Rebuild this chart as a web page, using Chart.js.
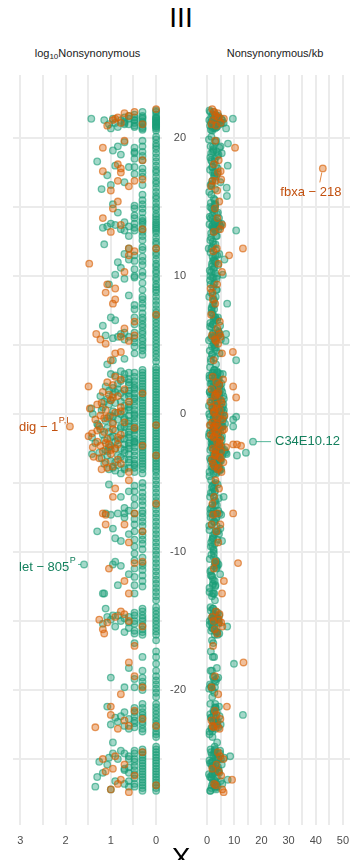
<!DOCTYPE html>
<html>
<head>
<meta charset="utf-8">
<script src="https://cdn.jsdelivr.net/npm/chart.js@4.4.1/dist/chart.umd.min.js"></script>
<style>
  body { margin: 0; background: #fff; width: 359px; height: 860px; overflow: hidden; position: relative;
         font-family: "Liberation Sans", Arial, sans-serif; }
  .title { position: absolute; left: 0; width: 362px; text-align: center; font-size: 28px; line-height: 28px; color: #000; }
  .strip { position: absolute; top: 47px; font-size: 11px; line-height: 12px; color: #1A1A1A; text-align: center; }
  .strip sub { font-size: 8px; line-height: 0; vertical-align: -2px; }
  canvas { position: absolute; top: 0; }
</style>
</head>
<body>
<div class="title" style="top:4px">III</div>
<div class="strip" style="left:13px;width:149px">log<sub>10</sub>Nonsynonymous</div>
<div class="strip" style="left:200px;width:150px">Nonsynonymous/kb</div>
<canvas id="logPanel" data-panel="log" width="170" height="860" style="left:0"></canvas>
<canvas id="kbPanel" data-panel="kb" width="194" height="860" style="left:165px"></canvas>
<div class="title" style="top:844px">X</div>

<script>
// genes on chromosome III: position (Mb from centre), nonsynonymous count, nonsynonymous per kb
const greenY = [
  21.9,21.7,21.5,21.4,21.3,21.2,21.1,21.0,20.9,20.8,20.7,21.6,21.4,21.2,21.0,20.8,20.6,21.5,21.3,21.1,20.9,21.4,21.2,21.0,21.3,20.8,21.1,21.4,21.0,21.3,21.4,20.7,
  20.1,19.6,19.2,18.6,18.0,17.5,16.9,16.4,19.8,19.0,18.4,17.8,17.2,16.6,19.3,18.5,17.4,19.7,19.4,19.1,18.8,18.3,18.0,17.3,16.8,16.3,16.6,17.9,18.9,
  15.8,15.3,14.8,14.3,13.9,13.6,13.3,12.8,12.3,15.5,14.9,14.0,13.7,13.4,12.6,15.1,14.4,13.8,13.5,12.9,13.8,13.6,13.7,13.4,13.3,13.5,12.3,14.6,15.2,12.0,
  11.7,11.2,10.7,10.2,9.7,9.2,11.9,11.4,10.8,10.3,9.5,11.5,10.5,9.9,11.6,11.0,10.6,10.1,9.4,11.2,9.8,
  8.8,8.2,7.6,7.1,6.6,6.1,5.6,5.1,4.6,4.1,8.5,8.0,7.3,6.8,6.3,5.8,5.3,4.8,4.3,7.9,7.0,6.5,5.5,4.4,7.0,6.8,5.7,5.5,5.6,5.4,5.8,3.9,3.6,4.0,6.4,8.6,
  3.4,3.0,2.6,2.2,1.8,1.4,1.0,0.6,0.2,-0.2,-0.6,-1.0,-1.4,-1.8,-2.2,-2.6,-3.0,-3.4,-3.8,-4.2,
  3.2,2.8,2.4,2.0,1.6,1.2,0.8,0.4,0.0,-0.4,-0.8,-1.2,-1.6,-2.0,-2.4,-2.8,-3.2,-3.6,-4.0,
  2.7,2.1,1.5,0.9,0.3,-0.3,-0.9,-1.5,-2.1,-2.7,-3.3,-3.9,
  2.5,1.7,0.7,-0.1,-0.9,-1.7,-2.5,-3.5,
  2.6,2.2,1.9,1.5,1.1,0.8,0.5,0.2,-0.1,-0.4,-0.7,-1.0,-1.3,-1.6,-1.9,-2.2,-2.5,-2.8,-3.1,-3.4,-3.7,2.0,1.3,0.0,-0.5,-1.1,-2.0,-2.7,0.4,-1.7,-2.9,1.7,-3.9,0.9,-0.2,-1.4,-2.4,2.8,-3.6,-4.3,
  -4.8,-5.4,-6.0,-6.6,-7.2,-7.8,-8.4,-9.0,-9.6,-5.0,-5.7,-6.3,-7.0,-7.5,-8.1,-8.8,-9.4,-5.2,-6.1,-7.2,-8.0,-9.1,-7.2,-7.2,-7.3,-7.2,-6.0,-5.6,-8.5,-8.3,-9.0,-9.2,-6.8,-5.1,-8.7,-9.6,
  -10.2,-10.8,-11.4,-12.0,-12.6,-13.2,-10.4,-11.0,-11.7,-12.5,-10.6,-11.8,-13.0,-10.9,-11.0,-10.7,-12.4,-13.0,-13.0,-11.6,
  -14.0,-14.5,-15.0,-15.5,-16.0,-14.3,-14.8,-15.3,-15.8,-14.6,-15.2,-15.7,-14.7,-15.5,-14.6,-14.6,-14.7,-15.0,-15.4,-15.8,-15.2,-14.9,-14.1,
  -17.2,-18.1,-19.0,-19.6,-20.2,-17.6,-18.6,-19.4,-20.0,-19.2,-19.8,-19.1,-19.8,-18.4,-16.6,
  -21.0,-21.5,-22.0,-22.5,-23.0,-23.4,-21.3,-21.8,-22.3,-22.8,-21.6,-22.2,-22.7,-21.9,-22.0,-22.5,-21.6,-22.3,-23.8,-21.2,-22.8,
  -24.3,-24.7,-25.1,-25.5,-25.9,-26.3,-26.7,-27.1,-24.5,-24.9,-25.3,-25.7,-26.1,-26.5,-26.9,-27.3,-24.6,-25.2,-25.8,-26.4,-27.0,-24.8,-25.6,-26.6,
  -24.4,-24.6,-25.0,-25.4,-25.8,-26.0,-26.3,-27.0,-26.6,-27.2,-25.2,-24.9,
  // single hits
  22.0,21.45,21.15,20.85,20.55,19.9,19.4,18.9,18.3,17.7,
  17.2,16.7,16.1,15.6,15.0,14.5,14.1,13.75,13.45,13.1,
  12.5,12.0,11.5,10.9,10.4,9.9,9.4,9.0,8.5,7.9,
  7.35,6.85,6.35,5.85,5.35,4.85,4.35,3.8,3.2,2.8,
  2.4,2.0,1.6,1.2,0.8,0.4,0.0,-0.4,-0.8,-1.2,
  -1.6,-2.0,-2.4,-2.8,-3.2,-3.6,-4.0,-4.5,-5.1,-5.7,
  -6.3,-6.9,-7.5,-8.1,-8.7,-9.3,-9.9,-10.5,-11.1,-11.7,
  -12.3,-12.9,-13.5,-14.25,-14.75,-15.25,-15.75,-16.4,-17.6,-18.6,
  -19.3,-19.9,-20.5,-21.25,-21.75,-22.25,-22.75,-23.2,-24.1,-24.5,
  -24.9,-25.3,-25.7,-26.1,-26.5,-26.9,-27.3,
  // two hits
  21.9,21.5,21.1,20.7,19.4,18.7,17.5,15.9,15.2,14.6,
  14.2,13.9,13.2,12.9,12.1,11.1,10.0,9.0,8.3,7.7,
  7.0,6.5,6.0,5.5,5.0,4.6,3.0,2.6,2.2,1.8,
  1.4,1.0,0.6,0.2,-0.2,-0.6,-1.0,-1.4,-1.8,-2.2,
  -2.6,-3.0,-3.4,-3.8,-4.3,-5.3,-6.0,-6.6,-7.2,-7.8,
  -8.5,-9.1,-9.8,-10.8,-11.3,-12.1,-14.1,-14.6,-15.0,-15.6,
  -16.0,-19.1,-19.7,-21.0,-21.6,-22.0,-22.5,-23.0,-24.3,-24.7,
  -25.1,-25.5,-25.9,-26.3,-26.7,-27.1,
  // three hits
  21.7,21.3,20.8,19.0,17.9,14.9,14.2,13.3,11.1,10.0,
  7.6,5.9,5.2,4.9,3.0,2.4,1.8,1.2,0.6,0.0,
  -0.6,-1.2,-1.8,-2.4,-3.0,-3.6,-4.2,-5.6,-6.6,-7.6,
  -8.5,-10.1,-11.2,-12.4,-14.4,-15.0,-15.9,-21.3,-21.9,-22.4,
  -24.4,-25.0,-25.5,-26.1,-26.8,
  // four and five hits
  21.6,21.0,13.6,5.6,3.0,2.1,1.3,0.3,-0.5,-1.3,-2.1,-2.9,-3.9,-7.0,-15.1,-22.1,-25.0,-26.0,-27.0,
  21.5,21.1,13.9,5.9,2.9,1.7,0.6,-0.3,-0.9,-1.8,-2.6,-3.3,-4.0,-7.5,-14.8,-22.6,-24.6,-25.7,-26.8,
  // centre cluster
  2.4,1.6,1.0,0.1,-0.6,-1.2,-1.8,-2.3,-3.0,-3.5,-0.3,-1.5,-2.6,0.7,-3.2,1.4,-0.8,-2.1,0.3,-4.0,
  3.1,2.9,2.3,1.9,1.8,1.2,1.1,0.9,0.5,0.2,-0.1,-0.4,-0.7,-1.0,-1.1,-1.5,-1.9,-2.0,-2.3,-2.8,
  -3.0,-3.3,-3.7,-3.9,-4.1,0.0,-0.9,-2.5,1.5,-1.7
];
const greenCount = [
  1,1,1,1,1,1,1,1,1,1,1,2,2,2,2,2,2,3,3,3,3,4,5,5,6,7,8,9,11,14,27,10,
  1,1,1,1,1,1,1,1,2,2,2,2,2,2,3,3,3,5,7,9,6,20,8,12,5,16,10,4,3,
  1,1,1,1,1,1,1,1,1,2,2,2,2,2,2,3,3,3,3,4,10,12,8,6,5,15,14,7,9,4,
  1,1,1,1,1,1,2,2,2,2,2,3,3,3,5,7,6,8,11,4,5,
  1,1,1,1,1,1,1,1,1,1,2,2,2,2,2,2,2,2,2,3,3,3,3,3,10,8,13,9,7,5,6,9,12,5,15,4,
  1,1,1,1,1,1,1,1,1,1,1,1,1,1,1,1,1,1,1,1,
  2,2,2,2,2,2,2,2,2,2,2,2,2,2,2,2,2,2,2,
  3,3,3,3,3,3,3,3,3,3,3,3,
  4,4,4,4,4,4,4,4,
  5,7,9,6,12,8,15,5,10,7,20,6,11,9,14,5,8,18,6,10,7,13,17,25,13,17,8,12,27,26,26,11,9,6,9,5,11,8,14,6,
  1,1,1,1,1,1,1,1,1,2,2,2,2,2,2,2,2,3,3,3,3,3,5,7,10,13,6,4,20,9,8,6,5,11,4,3,
  1,1,1,1,1,1,2,2,2,2,3,3,3,9,6,8,7,15,14,4,
  1,1,1,1,1,2,2,2,2,3,3,3,4,4,9,7,12,6,8,5,15,10,13,
  1,1,1,1,1,2,2,2,2,3,3,10,5,4,3,
  1,1,1,1,1,1,2,2,2,2,3,3,3,6,8,10,5,7,9,12,4,
  1,1,1,1,1,1,1,1,2,2,2,2,2,2,2,2,3,3,3,3,3,4,4,4,
  6,9,7,12,5,15,20,22,8,10,18,11,
  1,1,1,1,1,1,1,1,1,1,
  1,1,1,1,1,1,1,1,1,1,
  1,1,1,1,1,1,1,1,1,1,
  1,1,1,1,1,1,1,1,1,1,
  1,1,1,1,1,1,1,1,1,1,
  1,1,1,1,1,1,1,1,1,1,
  1,1,1,1,1,1,1,1,1,1,
  1,1,1,1,1,1,1,1,1,1,
  1,1,1,1,1,1,1,1,1,1,
  1,1,1,1,1,1,1,
  2,2,2,2,2,2,2,2,2,2,
  2,2,2,2,2,2,2,2,2,2,
  2,2,2,2,2,2,2,2,2,2,
  2,2,2,2,2,2,2,2,2,2,
  2,2,2,2,2,2,2,2,2,2,
  2,2,2,2,2,2,2,2,2,2,
  2,2,2,2,2,2,2,2,2,2,
  2,2,2,2,2,2,
  3,3,3,3,3,3,3,3,3,3,
  3,3,3,3,3,3,3,3,3,3,
  3,3,3,3,3,3,3,3,3,3,
  3,3,3,3,3,3,3,3,3,3,
  3,3,3,3,3,
  4,4,4,4,4,4,4,4,4,4,4,4,4,4,4,4,4,4,4,
  5,5,5,5,5,5,5,5,5,5,5,5,5,5,5,5,5,5,5,
  6,8,10,7,9,8,6,10,7,8,12,15,13,11,16,9,19,22,16,11,
  6,10,4,3,7,5,3,14,4,9,3,5,4,12,3,4,7,3,4,5,
  12,4,3,5,8,6,6,6,4,10
];
const greenKb = [
  1.2,2.0,1.5,3.1,0.8,2.4,1.7,2.9,1.1,3.6,2.2,2.7,4.0,1.9,3.3,2.5,1.4,3.8,2.6,4.4,1.8,5.2,3.0,4.8,2.1,3.5,6.1,4.1,2.8,5.6,9.5,7.0,
  1.6,7.7,2.3,1.2,7.6,2.8,1.9,7.2,3.4,2.1,1.5,3.9,2.6,1.3,4.6,2.9,3.7,3.1,5.0,2.4,4.2,1.8,3.3,2.7,4.9,3.0,1.7,2.0,5.4,
  7.3,1.4,2.2,1.0,2.7,1.8,3.2,1.5,2.4,2.9,1.7,3.5,2.1,4.2,1.2,3.0,1.9,4.4,2.5,3.6,5.3,3.8,4.7,2.6,10.7,2.2,3.1,4.0,2.8,1.6,
  1.3,2.5,1.8,3.0,1.1,2.2,3.3,2.0,4.1,1.5,2.8,3.7,2.3,1.9,4.5,3.2,2.7,5.8,2.4,6.4,3.5,
  1.4,2.6,1.7,2.3,1.2,3.1,1.9,2.4,1.0,2.9,3.2,7.4,2.0,3.7,1.6,7.0,6.8,2.7,1.8,2.5,4.0,2.2,3.4,4.6,3.1,2.4,4.3,2.8,3.6,5.1,2.0,10.7,3.3,1.4,4.8,2.1,
  1.1,2.3,0.9,1.7,2.8,1.4,3.2,0.7,2.0,10.7,1.5,2.6,0.8,3.5,1.9,1.2,11.0,2.4,1.6,0.9,
  2.7,1.6,3.8,2.2,1.0,4.3,2.9,1.8,3.4,9.6,2.5,1.3,4.0,2.1,3.1,14.3,1.7,2.6,3.6,
  3.0,4.6,2.0,3.7,5.2,2.4,9.6,4.1,1.6,3.3,5.0,2.2,
  4.4,2.9,6.0,3.6,5.4,2.7,4.8,3.9,
  3.9,5.3,2.8,4.5,6.2,3.4,5.7,2.3,4.9,3.1,6.6,2.5,4.0,5.5,3.6,2.0,4.7,6.9,3.2,5.1,2.7,4.2,6.0,3.0,5.8,4.4,2.6,6.4,3.8,5.0,7.2,2.9,4.6,3.5,6.3,2.1,5.4,3.3,4.1,2.4,
  1.5,2.4,1.1,3.0,1.8,2.6,0.9,2.1,1.4,3.2,1.9,2.7,4.1,1.3,3.5,2.2,2.9,2.0,4.3,3.1,1.7,3.8,4.6,2.5,5.2,3.4,6.1,2.8,3.6,4.9,2.3,5.5,1.6,3.9,4.4,2.0,
  1.6,2.9,1.2,2.2,0.9,1.8,2.5,3.7,1.4,3.0,3.3,2.0,2.6,4.2,2.7,3.6,3.1,2.4,1.9,4.8,
  1.3,2.4,1.0,1.9,2.8,3.1,1.6,2.6,3.8,2.2,4.2,1.5,3.4,2.0,4.5,3.0,2.9,2.7,7.4,3.6,1.8,4.0,2.3,
  1.4,9.9,2.2,1.1,2.7,2.6,1.8,3.2,2.0,3.5,1.5,4.1,2.9,3.6,2.3,
  1.2,2.3,1.6,2.9,0.9,2.0,3.0,13.2,2.4,1.7,3.6,2.1,4.2,4.6,3.3,5.0,2.6,3.9,3.7,4.4,3.1,
  1.3,2.4,0.9,1.8,3.0,1.1,2.2,1.6,2.8,6.3,1.5,3.4,2.0,7.6,2.6,1.2,3.7,2.1,4.3,1.7,3.2,8.5,4.0,3.0,
  4.8,2.7,3.9,5.4,2.3,4.5,3.6,2.9,5.0,3.3,1.9,4.1,
  0.9,2.6,1.4,3.0,1.9,0.7,2.2,1.5,2.8,1.1,
  3.3,1.7,0.8,2.5,1.2,3.6,2.0,0.9,2.7,1.5,
  2.1,0.6,3.1,1.8,1.0,2.4,1.3,3.4,0.8,2.0,
  1.6,2.9,1.1,2.3,0.7,3.2,1.9,1.4,2.6,0.9,
  1.8,2.5,1.0,3.0,1.5,2.2,0.8,2.9,1.3,2.0,
  0.7,2.7,1.6,3.3,1.1,2.3,1.8,0.9,2.6,1.4,
  3.1,1.2,2.0,0.8,2.8,1.5,2.4,1.0,3.5,1.7,
  2.2,0.9,2.9,1.4,2.5,1.0,3.2,1.8,2.1,1.3,
  2.7,0.8,1.9,3.0,1.2,2.4,1.6,0.9,2.8,1.5,
  3.3,1.1,2.2,0.7,2.6,1.8,1.2,
  2.4,3.5,1.8,2.9,1.3,3.8,2.2,1.6,3.1,2.6,
  1.4,4.0,2.3,3.3,1.9,2.8,1.2,3.6,2.5,1.7,
  3.0,2.1,4.2,1.5,2.7,3.4,2.0,3.9,1.3,2.8,
  4.5,1.9,3.2,2.4,1.1,3.7,2.6,4.1,1.6,3.0,
  2.2,3.8,1.4,2.9,3.4,1.8,2.5,3.6,1.2,2.7,
  3.1,1.9,2.4,3.5,1.5,2.8,2.1,3.3,1.7,2.6,
  3.9,2.3,1.6,3.0,2.5,1.4,3.6,2.0,2.9,1.8,
  3.4,2.2,4.0,1.5,2.7,3.1,
  3.2,4.1,2.5,3.6,1.9,2.8,4.4,3.0,2.2,3.7,
  2.6,4.3,3.1,1.8,3.9,2.4,4.6,2.0,3.4,5.0,
  2.7,3.8,1.7,4.2,3.0,2.3,3.6,2.9,1.9,3.3,
  4.0,2.5,3.5,2.1,3.9,2.7,4.5,3.2,2.4,3.7,
  2.8,4.2,3.1,1.9,3.6,
  4.2,3.1,5.0,2.7,3.8,4.6,2.9,5.3,3.5,4.1,2.6,4.9,3.3,2.4,4.4,3.0,5.1,2.8,3.9,
  3.6,5.4,2.9,4.3,5.8,3.2,4.7,2.5,5.5,3.9,4.4,2.8,5.2,3.5,4.0,2.6,4.8,3.1,5.6,
  4.1,5.6,3.2,6.0,2.8,4.9,3.6,5.3,2.4,4.5,5.9,3.0,6.5,3.8,4.2,2.7,5.0,3.4,6.2,4.7,
  3.6,4.8,2.9,3.7,5.2,4.0,2.6,5.5,3.3,4.4,2.8,5.0,3.6,4.7,2.3,3.9,5.4,2.5,4.3,3.2,
  5.6,2.9,4.0,3.4,4.6,3.0,5.8,3.7,2.4,4.2
];

const orangeY = [
  22.1,21.8,21.9,21.5,21.6,21.3,21.1,20.9,21.0,21.4,
  19.3,18.4,17.0,18.1,17.5,16.9,16.9,17.6,16.2,15.4,14.9,14.2,19.8,16.5,
  13.4,13.2,12.0,12.0,11.5,10.9,13.7,11.8,
  9.4,8.8,10.3,9.1,
  8.3,8.0,6.7,6.2,5.8,5.4,5.1,5.6,5.3,5.7,4.4,4.5,3.9,7.2,
  2.5,2.0,1.2,-2.2,-2.2,-2.3,2.7,2.3,1.8,1.6,1.3,1.0,0.7,0.5,0.3,0.1,-0.2,-0.4,-0.6,-0.9,-1.1,-1.3,-1.5,-1.8,-2.0,-2.5,
  -2.7,-2.9,-3.1,-3.3,-3.5,-3.8,-4.0,-1.0,0.9,-2.3,-3.0,1.5,-0.8,-4.2,-1.6,0.4,-2.4,
  2.1,1.4,0.8,0.2,-0.3,-0.7,-1.2,-1.7,-2.1,-2.6,-3.2,-3.6,-3.9,-1.4,-0.1,
  -4.8,-5.4,-6.0,-7.2,-7.3,-7.2,-8.0,-8.0,-8.5,-6.5,-9.3,
  -10.8,-10.7,-11.2,-12.1,-13.0,
  -14.9,-15.1,-15.6,-15.9,-14.7,-14.5,-15.0,-16.8,-14.3,-15.4,
  -18.0,-19.0,-20.3,-19.8,
  -21.2,-21.8,-22.7,-22.8,-22.6,-22.1,-22.6,-22.2,-21.5,
  -25.9,-27.2,-27.4,-26.5,-24.8,-25.4,-26.2,-26.8,-25.0,-24.5,-26.9,-25.7
];
const orangeCount = [
  1,5,3,7,4,9,6,12,2,8,
  15,2,2,7,6,7,3,15,10,7,9,15,5,4,
  2,10,1,4,4,30,6,3,
  12,13,5,8,
  8,9,3,5,21,17,13,6,4,3,8,6,10,1,
  6,31,9,7,11,17,8,12,5,15,7,10,20,6,13,8,11,22,5,18,9,14,6,12,20,8,
  15,10,24,7,13,9,16,3,4,2,1,2,1,4,31,29,25,
  9,11,16,6,14,9,20,7,13,10,18,6,12,26,17,
  4,8,9,15,13,3,13,5,2,1,4,
  3,2,11,5,4,
  18,12,15,14,8,5,4,3,6,2,
  4,3,6,2,
  10,10,22,7,4,2,1,5,3,
  13,10,4,6,8,5,3,7,15,2,1,9
];
const orangeKb = [
  1.9,3.9,2.6,4.4,3.1,2.2,5.0,3.4,1.6,6.2,
  10.3,4.3,5.2,2.5,4.0,2.0,3.2,5.0,3.7,4.5,2.9,3.8,3.0,1.5,
  4.8,2.5,3.6,13.2,8.1,4.2,5.6,2.3,
  3.7,2.0,5.5,1.3,
  2.1,3.0,4.7,3.8,4.6,2.9,4.1,5.0,3.3,1.8,5.5,9.5,2.4,1.5,
  5.9,9.6,10.7,9.6,11.0,12.5,2.1,3.4,1.6,4.2,2.8,5.1,3.6,1.9,4.7,2.5,3.3,5.6,2.0,4.0,6.3,3.1,1.4,4.8,3.7,2.2,
  5.2,3.0,4.4,1.8,6.0,2.7,3.9,2.3,1.2,4.5,2.9,3.8,1.0,5.3,2.6,3.5,7.0,
  4.5,3.2,5.4,2.7,4.1,3.5,5.7,2.4,4.6,3.1,5.0,2.2,4.3,3.8,6.4,
  3.1,4.4,2.6,9.6,2.2,3.8,4.9,1.7,3.4,2.0,4.1,
  11.4,3.0,2.5,6.2,5.5,
  4.3,5.2,2.8,3.7,1.9,4.6,2.4,2.2,3.3,5.6,
  13.4,2.9,4.1,1.7,
  7.3,3.5,2.4,4.6,3.8,4.9,2.0,1.6,2.9,
  4.3,5.6,6.1,9.2,4.8,3.5,5.2,2.6,6.0,4.0,3.2,1.9
];

// named outliers
const labelGene = ['dig − 1', 'let − 805', 'C34E10.12', 'fbxa − 218'];
const labelSup = ['P,I', 'P', '', ''];
const labelSeries = ['orange', 'green', 'green', 'orange'];
const labelPanel = ['log', 'log', 'kb', 'kb'];
const labelY = [-0.9, -10.9, -2.0, 17.8];
const labelCount = [80, 39, 3, 6];
const labelKb = [2.8, 3.2, 16.9, 42.6];

const yTicks = [-25, -20, -15, -10, -5, 0, 5, 10, 15, 20];
const logTicks = [0, 0.5, 1, 1.5, 2, 2.5, 3];
const kbTicks = [0, 5, 10, 15, 20, 25, 30, 35, 40, 45, 50];

// text placement of the named genes, relative to their point
const labelLayout = [
  { dx: -51, dy: 1, align: 'left', seg: null },
  { dx: -65, dy: 3, align: 'left', seg: [-6, 0, -3, 0] },
  { dx: 22, dy: 0, align: 'left', seg: [3, 0, 18, 0] },
  { dx: -12, dy: 24, align: 'center', seg: [-1, 4, -3, 14] },
];

labelGene.forEach((g, i) => {
  const s = labelSeries[i] === 'green' ? [greenY, greenCount, greenKb] : [orangeY, orangeCount, orangeKb];
  s[0].push(labelY[i]);
  s[1].push(labelCount[i]);
  s[2].push(labelKb[i]);
});

Chart.defaults.font.family = '"Liberation Sans", Arial, sans-serif';
const green = '27,158,119';
const orange = '217,95,2';
const textColor = { green: '#14805E', orange: '#C2500E' };

const points = (ys, xs) => ys.map((y, i) => ({ x: xs[i], y }));
const pointStyle = rgb => ({
  backgroundColor: `rgba(${rgb},0.4)`,
  borderColor: `rgba(${rgb},0.62)`,
  borderWidth: 1.3,
  pointRadius: 3.3,
});
const gridStyle = { color: '#EBEBEB', lineWidth: 2, drawTicks: false };

const geneLabels = {
  id: 'geneLabels',
  afterDatasetsDraw(chart) {
    const { ctx, scales: { x, y } } = chart;
    const panel = chart.canvas.dataset.panel;
    labelGene.forEach((name, i) => {
      if (labelPanel[i] !== panel) return;
      const xv = panel === 'log' ? Math.log10(labelCount[i]) : labelKb[i];
      const px = x.getPixelForValue(xv);
      const py = y.getPixelForValue(labelY[i]);
      const lay = labelLayout[i];
      const rgb = labelSeries[i] === 'green' ? green : orange;
      ctx.save();
      if (lay.seg) {
        ctx.strokeStyle = `rgba(${rgb},0.75)`;
        ctx.lineWidth = 1;
        ctx.beginPath();
        ctx.moveTo(px + lay.seg[0], py + lay.seg[1]);
        ctx.lineTo(px + lay.seg[2], py + lay.seg[3]);
        ctx.stroke();
      }
      ctx.fillStyle = textColor[labelSeries[i]];
      ctx.font = '13px "Liberation Sans", Arial, sans-serif';
      ctx.textBaseline = 'middle';
      ctx.textAlign = lay.align;
      const tx = px + lay.dx, ty = py + lay.dy;
      ctx.fillText(name, tx, ty);
      if (labelSup[i]) {
        const w = ctx.measureText(name).width;
        ctx.font = '9px "Liberation Sans", Arial, sans-serif';
        ctx.textAlign = 'left';
        ctx.fillText(labelSup[i], tx + w + 0.5, ty - 7);
      }
      ctx.restore();
    });
  }
};

function makePanel(id, cfg) {
  return new Chart(document.getElementById(id), {
    type: 'scatter',
    data: {
      datasets: [
        { label: 'orange', data: points(orangeY, cfg.orangeX), ...pointStyle(orange) },
        { label: 'green', data: points(greenY, cfg.greenX), ...pointStyle(green) },
      ],
    },
    options: {
      responsive: false,
      animation: false,
      events: [],
      layout: { padding: cfg.padding },
      plugins: { legend: { display: false }, tooltip: { enabled: false } },
      scales: {
        x: {
          type: 'linear',
          min: cfg.xMin,
          max: cfg.xMax,
          reverse: cfg.reverse,
          afterBuildTicks: s => { s.ticks = cfg.xTicks.map(v => ({ value: v })); },
          afterFit: s => { s.height = 35; },
          grid: gridStyle,
          border: { display: false },
          ticks: {
            padding: 9, color: '#4D4D4D', font: { size: 11 }, maxRotation: 0, autoSkip: false,
            callback: v => (v % cfg.labelEvery === 0 ? v : ''),
          },
        },
        y: {
          type: 'linear',
          min: -29.78,
          max: 24.57,
          afterBuildTicks: s => { s.ticks = yTicks.map(v => ({ value: v })); },
          afterFit: s => { s.width = cfg.yWidth; },
          grid: gridStyle,
          border: { display: false },
          ticks: {
            display: cfg.showY, padding: 14, color: '#4D4D4D', font: { size: 11 },
            callback: v => (v % 10 === 0 ? v : ''),
          },
        },
      },
    },
    plugins: [geneLabels],
  });
}

makePanel('logPanel', {
  orangeX: orangeCount.map(n => Math.log10(n)),
  greenX: greenCount.map(n => Math.log10(n)),
  xMin: -0.13, xMax: 3.16, reverse: true, xTicks: logTicks, labelEvery: 1,
  padding: { left: 13, right: 8, top: 75, bottom: 0 },
  yWidth: 0, showY: false,
});

makePanel('kbPanel', {
  orangeX: orangeKb,
  greenX: greenKb,
  xMin: -2.6, xMax: 52.6, reverse: false, xTicks: kbTicks, labelEvery: 10,
  padding: { left: 0, right: 9, top: 75, bottom: 0 },
  yWidth: 35, showY: true,
});
</script>
</body>
</html>
